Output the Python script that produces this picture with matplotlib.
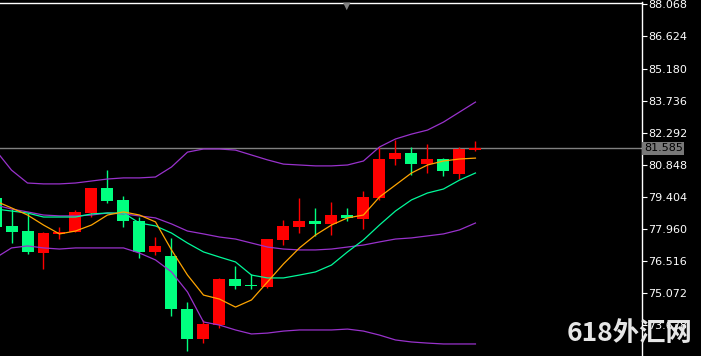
import matplotlib
matplotlib.use("Agg")
import matplotlib.pyplot as plt
import numpy as np

# K线数据 (开, 高, 低, 收)
opens  = [79.36, 78.10, 77.87, 76.88, 77.74, 77.83, 78.68, 79.81, 79.27, 78.32, 76.93,
          76.75, 74.36, 73.01, 73.64, 75.71, 75.45, 75.35, 77.47, 78.05, 78.32, 78.19,
          78.59, 78.41, 79.36, 81.11, 81.38, 80.89, 81.11, 80.44, 81.51]
highs  = [79.49, 78.86, 78.68, 77.83, 78.05, 78.82, 79.81, 80.62, 79.45, 78.50, 77.60,
          77.56, 74.68, 73.87, 75.76, 76.30, 75.94, 77.53, 78.37, 79.36, 78.91, 79.18,
          78.91, 79.67, 81.65, 81.96, 81.65, 81.78, 81.16, 81.65, 81.92]
lows   = [77.92, 77.33, 76.84, 76.16, 77.51, 77.83, 78.50, 79.13, 78.05, 76.66, 76.79,
          74.05, 72.47, 72.83, 73.51, 75.26, 75.26, 75.31, 77.24, 77.78, 77.65, 77.69,
          78.32, 77.96, 79.27, 80.84, 80.39, 80.48, 80.35, 80.21, 81.47]
closes = [78.05, 77.83, 76.93, 77.78, 77.83, 78.73, 79.81, 79.22, 78.32, 76.93, 77.20,
          74.36, 73.01, 73.69, 75.71, 75.40, 75.42, 77.51, 78.10, 78.32, 78.19, 78.59,
          78.46, 79.40, 81.11, 81.38, 80.89, 81.11, 80.57, 81.56, 81.585]

# 均线和布林带
ma_fast  = [79.22, 78.91, 78.59, 78.14, 77.74, 77.87, 78.14, 78.59, 78.73, 78.59, 78.28,
            77.02, 75.89, 74.99, 74.81, 74.45, 74.77, 75.58, 76.39, 77.11, 77.69, 78.14,
            78.46, 78.59, 79.40, 79.94, 80.48, 80.84, 81.02, 81.11, 81.15]
ma_slow  = [78.86, 78.77, 78.68, 78.50, 78.50, 78.50, 78.64, 78.68, 78.68, 78.23, 78.10,
            77.78, 77.33, 76.93, 76.70, 76.48, 75.89, 75.76, 75.76, 75.89, 76.03, 76.34,
            76.93, 77.47, 78.14, 78.77, 79.27, 79.58, 79.76, 80.16, 80.48]
bb_upper = [81.51, 80.61, 80.03, 79.99, 79.99, 80.03, 80.12, 80.21, 80.26, 80.26, 80.30,
            80.75, 81.42, 81.56, 81.56, 81.51, 81.29, 81.07, 80.88, 80.84, 80.80, 80.80,
            80.84, 81.02, 81.65, 82.01, 82.23, 82.41, 82.77, 83.22, 83.67]
bb_mid   = [79.04, 78.86, 78.73, 78.59, 78.55, 78.55, 78.59, 78.68, 78.64, 78.55, 78.46,
            78.19, 77.87, 77.74, 77.60, 77.51, 77.33, 77.15, 77.06, 77.02, 77.02, 77.06,
            77.15, 77.24, 77.38, 77.51, 77.56, 77.65, 77.74, 77.92, 78.23]
bb_lower = [76.66, 77.11, 77.20, 77.11, 77.06, 77.11, 77.11, 77.11, 77.11, 76.88, 76.57,
            76.03, 75.13, 73.78, 73.64, 73.42, 73.24, 73.28, 73.37, 73.42, 73.42, 73.42,
            73.46, 73.37, 73.19, 72.97, 72.88, 72.83, 72.79, 72.79, 72.79]

price_ticks = [88.068, 86.624, 85.180, 83.736, 82.292, 80.848, 79.404, 77.960, 76.516, 75.072, 73.628]
last_price = 81.585

W, H = 701, 356
fig = plt.figure(figsize=(W/100, H/100), dpi=100, facecolor='black')
ax = fig.add_axes([0, 0, 642/W, (H-2.5)/H])
ax.set_facecolor('black')

x = np.arange(len(opens))
up_col = '#ff0000'
dn_col = '#00ff7f'
for i in x:
    o, h, l, c = opens[i], highs[i], lows[i], closes[i]
    col = up_col if c >= o else dn_col
    ax.vlines(i, l, h, color=col, lw=1.0, zorder=2)
    body = max(abs(c-o), 0.04)
    ax.bar(i, body, bottom=min(o, c), width=0.75, color=col, lw=0, zorder=3)

lw = 0.9
ax.plot(x, bb_upper, color='#9932cc', lw=lw, zorder=4)
ax.plot(x, bb_mid, color='#9932cc', lw=lw, zorder=4)
ax.plot(x, bb_lower, color='#9932cc', lw=lw, zorder=4)
ax.plot(x, ma_slow, color='#00fa9a', lw=lw, zorder=5)
ax.plot(x, ma_fast, color='#ffa500', lw=lw, zorder=6)

# 当前价格线
ax.axhline(last_price, color='#808080', lw=1.0, zorder=1)

ax.set_xlim(0.281, 40.41)
ax.set_ylim(72.249, 88.149)

for s in ['left', 'bottom']:
    ax.spines[s].set_visible(False)
for s in ['top', 'right']:
    ax.spines[s].set_color('white')
    ax.spines[s].set_linewidth(1.0)
ax.set_xticks([])
ax.yaxis.tick_right()
ax.set_yticks(price_ticks)
ax.set_yticklabels(['%.3f' % p for p in price_ticks])
ax.tick_params(axis='y', colors='white', direction='out', length=3.5, width=0.8, pad=1, labelsize=8)

ax.text(1.003, last_price, '%.3f' % last_price, transform=ax.get_yaxis_transform(),
        ha='left', va='center', fontsize=8, color='black', zorder=10, clip_on=False,
        bbox=dict(boxstyle='square,pad=0.15', fc='#787878', ec='none'))

# 顶部小三角
fig.text(347/W, 1-6/H, '▼', color='#808080', fontsize=7, ha='center', va='center')

# 水印
fig.text(567/W, 9/H, '618外汇网', color='#e6e6e6', fontsize=19, fontweight='bold',
         family=['Noto Sans CJK SC', 'DejaVu Sans'], ha='left', va='bottom', zorder=20)

fig.savefig('out.png', dpi=100, facecolor='black')
